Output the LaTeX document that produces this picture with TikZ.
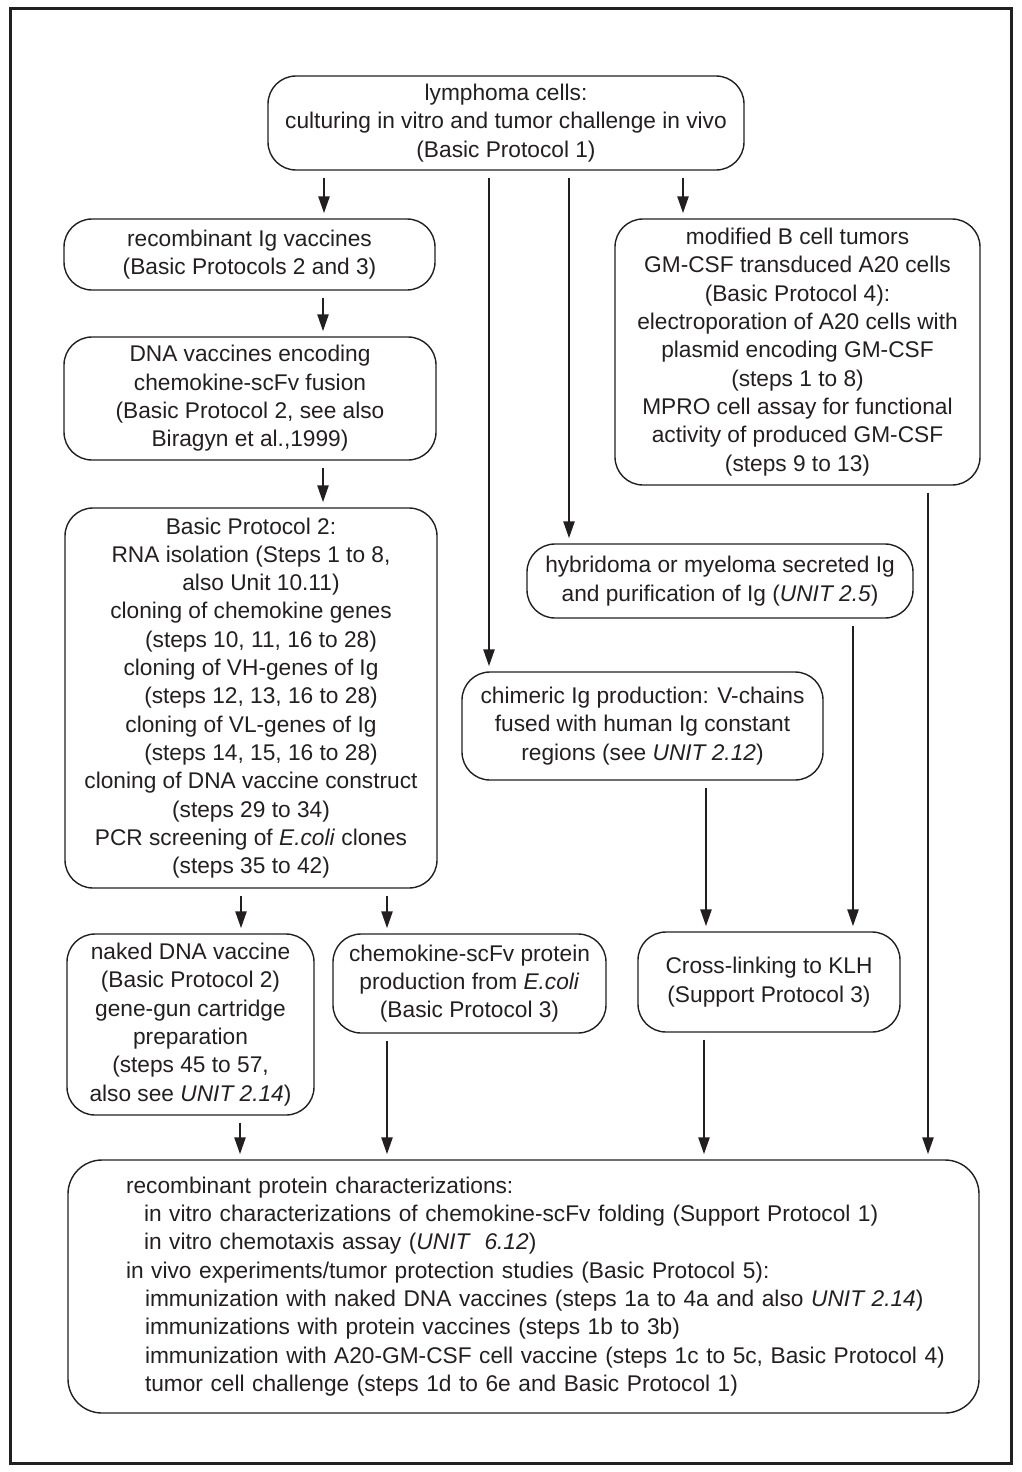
\documentclass[tikz,border=0pt]{standalone}
\usepackage{fontspec}
\setmainfont{Liberation Sans}
\usepackage{tikz}
\usetikzlibrary{arrows.meta}
\definecolor{ink}{HTML}{231F20}
\tikzset{
  >={Triangle[length=17pt,width=11pt]},
  block/.style={draw=ink, line width=1.4pt, rounded corners=28pt, align=center, inner sep=4pt},
  l/.style={->, line width=2.5pt, draw=ink, shorten <=7pt, shorten >=5pt},
  frame/.style={draw=ink, line width=3pt},
}

\begin{document}
\begin{tikzpicture}[x=1pt,y=-1pt,color=ink,font=\fontsize{22.7}{28.3}\selectfont]
  \useasboundingbox (0,0) rectangle (1021,1472);
  \draw[frame] (10,9) rectangle (1011,1463);
  % top row
  \node[block,minimum width=476pt,minimum height=94pt] (lym) at (506,123)
    {lymphoma cells:\\culturing in vitro and tumor challenge in vivo\\(Basic Protocol 1)};
  \node[block,minimum width=371pt,minimum height=71pt] (rec) at (249.5,254.5)
    {recombinant Ig vaccines\\(Basic Protocols 2 and 3)};
  \node[block,minimum width=365pt,minimum height=266pt] (modb) at (797.5,352)
    {modified B cell tumors\\GM-CSF transduced A20 cells\\(Basic Protocol 4):\\electroporation of A20 cells with\\plasmid encoding GM-CSF\\(steps 1 to 8)\\MPRO cell assay for functional\\activity of produced GM-CSF\\(steps 9 to 13)};
  \node[block,minimum width=372pt,minimum height=123pt] (dna) at (250,398.5)
    {DNA vaccines encoding\\chemokine-scFv fusion\\(Basic Protocol 2, see also\\Biragyn et al.,1999)};
  % protocol 2 column
  \node[block,minimum width=372pt,minimum height=380pt] (bp) at (251,698)
    {Basic Protocol 2:\\RNA isolation (Steps 1 to 8,\\\hspace*{20pt}also Unit 10.11)\\cloning of chemokine genes\\\hspace*{20pt}(steps 10, 11, 16 to 28)\\cloning of VH-genes of Ig\\\hspace*{20pt}(steps 12, 13, 16 to 28)\\cloning of VL-genes of Ig\\\hspace*{20pt}(steps 14, 15, 16 to 28)\\cloning of DNA vaccine construct\\(steps 29 to 34)\\PCR screening of \textit{E.coli} clones\\(steps 35 to 42)};
  \node[block,minimum width=386pt,minimum height=74pt] (hyb) at (720,581)
    {hybridoma or myeloma secreted Ig\\and purification of Ig (\textit{UNIT 2.5})};
  \node[block,minimum width=361pt,minimum height=108pt] (chim) at (642.5,726)
    {chimeric Ig production: V-chains\\fused with human Ig constant\\regions (see \textit{UNIT 2.12})};
  % vaccine types
  \node[block,minimum width=247pt,minimum height=181pt] (naked) at (190.5,1024.5)
    {naked DNA vaccine\\(Basic Protocol 2)\\gene-gun cartridge\\preparation\\(steps 45 to 57,\\also see \textit{UNIT 2.14})};
  \node[block,minimum width=273pt,minimum height=99pt] (prot) at (469.5,983.5)
    {chemokine-scFv protein\\production from \textit{E.coli}\\(Basic Protocol 3)};
  \node[block,minimum width=262pt,minimum height=100pt] (klh) at (769,982)
    {Cross-linking to KLH\\(Support Protocol 3)};
  % characterization box
  \node[block,rounded corners=34pt,minimum height=253pt,text width=795pt,inner xsep=58pt,align=left] (res) at (523.5,1286.5)
    {recombinant protein characterizations:\\
     \hspace*{18pt}in vitro characterizations of chemokine-scFv folding (Support Protocol 1)\\
     \hspace*{18pt}in vitro chemotaxis assay (\textit{UNIT\ \ 6.12})\\
     in vivo experiments/tumor protection studies (Basic Protocol 5):\\
     \hspace*{19pt}\rlap{immunization with naked DNA vaccines (steps 1a to 4a and also \textit{UNIT 2.14})}\\
     \hspace*{19pt}immunizations with protein vaccines (steps 1b to 3b)\\
     \hspace*{19pt}\rlap{immunization with A20-GM-CSF cell vaccine (steps 1c to 5c, Basic Protocol 4)}\\
     \hspace*{19pt}tumor cell challenge (steps 1d to 6e and Basic Protocol 1)};
  % arrows
  \draw[l] (lym.south -| 324,0) -- (rec.north -| 324,0);
  \draw[l] (lym.south -| 489,0) -- (chim.north -| 489,0);
  \draw[l] (lym.south -| 569,0) -- (hyb.north -| 569,0);
  \draw[l] (lym.south -| 683,0) -- (modb.north -| 683,0);
  \draw[l] (rec.south -| 323,0) -- (dna.north -| 323,0);
  \draw[l] (dna.south -| 323,0) -- (bp.north -| 323,0);
  \draw[l] (bp.south -| 241,0) -- (naked.north -| 241,0);
  \draw[l] (bp.south -| 387,0) -- (prot.north -| 387,0);
  \draw[l] (chim.south -| 706,0) -- (klh.north -| 706,0);
  \draw[l] (hyb.south -| 853,0) -- (klh.north -| 853,0);
  \draw[l] (modb.south -| 928,0) -- (res.north -| 928,0);
  \draw[l] (naked.south -| 240,0) -- (res.north -| 240,0);
  \draw[l] (prot.south -| 387,0) -- (res.north -| 387,0);
  \draw[l] (klh.south -| 704,0) -- (res.north -| 704,0);
\end{tikzpicture}
\end{document}
